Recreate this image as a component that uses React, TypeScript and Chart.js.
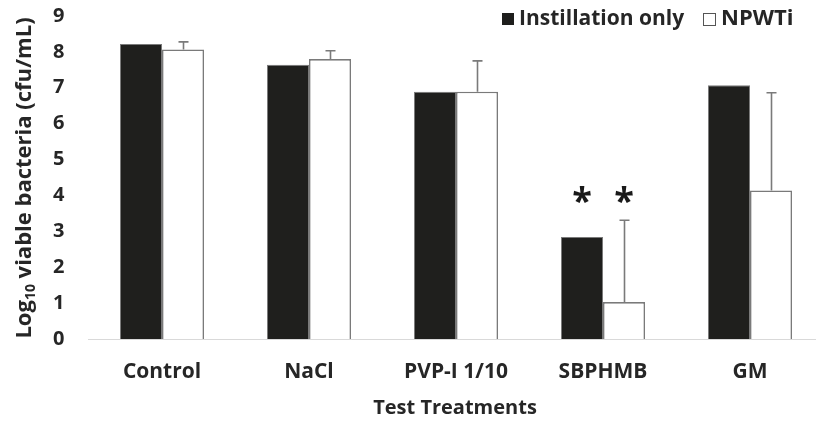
import { useEffect, useRef } from "react";
import { Chart, registerables } from "chart.js";

Chart.register(...registerables);

// Treatments on the x axis
const categories = ["Control", "NaCl", "PVP-I 1/10", "SBPHMB", "GM"];
// Mean log10 viable bacteria (cfu/mL)
const instillationOnly = [8.22, 7.64, 6.89, 2.84, 7.07];
const npwti = [8.07, 7.8, 6.89, 1.03, 4.14];
// Upper standard deviation for the NPWTi group
const npwtiSd = [0.21, 0.23, 0.86, 2.28, 2.72];
// Significance marks (dataset index, category index) and the level they sit at
const significance = [
  { dataset: 0, index: 3 },
  { dataset: 1, index: 3 },
];
const significanceLevel = 4.0;
const yTicks = [0, 1, 2, 3, 4, 5, 6, 7, 8, 9];
const seriesNames = ["Instillation only", "NPWTi"];

const FONT = "'Open Sans', 'Liberation Sans', sans-serif";
const TEXT = "#262626";

const errorBars = {
  id: "errorBars",
  afterDatasetsDraw(chart: any) {
    const { ctx } = chart;
    const y = chart.scales.y;
    const meta = chart.getDatasetMeta(1);
    ctx.save();
    ctx.strokeStyle = "#7a7a7a";
    ctx.lineWidth = 1.6;
    meta.data.forEach((bar: any, i: number) => {
      const top = y.getPixelForValue(npwti[i] + npwtiSd[i]);
      const x = Math.round(bar.x) + 0.5;
      ctx.beginPath();
      ctx.moveTo(x, bar.y);
      ctx.lineTo(x, top);
      ctx.moveTo(x - 5, top);
      ctx.lineTo(x + 5, top);
      ctx.stroke();
    });
    // asterisks
    ctx.fillStyle = "#1a1a1a";
    ctx.font = `bold 36px ${FONT}`;
    ctx.textAlign = "center";
    ctx.textBaseline = "alphabetic";
    significance.forEach((s) => {
      const bar = chart.getDatasetMeta(s.dataset).data[s.index];
      const cy = y.getPixelForValue(significanceLevel);
      const m = ctx.measureText("*");
      const base = cy + (m.actualBoundingBoxAscent - m.actualBoundingBoxDescent) / 2;
      ctx.fillText("*", bar.x, base);
    });
    ctx.restore();
  },
};

const labelsPlugin = {
  id: "labels",
  afterDraw(chart: any) {
    const { ctx } = chart;
    ctx.save();
    ctx.fillStyle = TEXT;

    // y axis title with subscript
    const size = 22;
    const sub = 14;
    const parts = [
      { t: "Log", s: size, dy: 0 },
      { t: "10", s: sub, dy: 4 },
      { t: " viable bacteria (cfu/mL)", s: size, dy: 0 },
    ];
    let total = 0;
    parts.forEach((p) => {
      ctx.font = `bold ${p.s}px ${FONT}`;
      total += ctx.measureText(p.t).width;
    });
    ctx.translate(23, 178);
    ctx.rotate(-Math.PI / 2);
    ctx.textBaseline = "alphabetic";
    ctx.textAlign = "left";
    let x = -total / 2;
    parts.forEach((p) => {
      ctx.font = `bold ${p.s}px ${FONT}`;
      ctx.fillText(p.t, x, 8 + p.dy);
      x += ctx.measureText(p.t).width;
    });
    ctx.setTransform(1, 0, 0, 1, 0, 0);

    // x axis title
    ctx.font = `bold 20px ${FONT}`;
    ctx.textAlign = "center";
    ctx.textBaseline = "middle";
    ctx.fillText("Test Treatments", 455, 408);

    // legend
    ctx.textAlign = "left";
    ctx.font = `bold 21px ${FONT}`;
    ctx.fillStyle = "#1e1e1c";
    ctx.fillRect(502, 13, 12, 12);
    ctx.fillStyle = TEXT;
    ctx.fillText(seriesNames[0], 519, 19);
    ctx.fillStyle = "#ffffff";
    ctx.fillRect(703.5, 13.5, 12, 12);
    ctx.strokeStyle = "#555";
    ctx.lineWidth = 1;
    ctx.strokeRect(703.5, 13.5, 12, 12);
    ctx.fillStyle = TEXT;
    ctx.font = `bold 22px ${FONT}`;
    ctx.fillText(seriesNames[1], 721, 19);
    ctx.restore();
  },
};

export default function App() {
  const ref = useRef<HTMLCanvasElement | null>(null);

  useEffect(() => {
    if (!ref.current) return;
    const chart = new Chart(ref.current, {
      type: "bar",
      data: {
        labels: categories,
        datasets: [
          {
            label: seriesNames[0],
            data: instillationOnly,
            backgroundColor: "#1f1f1d",
            borderColor: "#7a7a7a",
            borderWidth: 1,
            categoryPercentage: 0.572,
            barPercentage: 1,
          },
          {
            label: seriesNames[1],
            data: npwti,
            backgroundColor: "#ffffff",
            borderColor: "#7a7a7a",
            borderWidth: 1.6,
            categoryPercentage: 0.572,
            barPercentage: 1,
          },
        ],
      },
      options: {
        responsive: false,
        animation: false,
        devicePixelRatio: 1,
        layout: { padding: { left: 0, top: 16, right: 6.5, bottom: 0 } },
        plugins: {
          legend: { display: false },
          tooltip: { enabled: false },
        },
        scales: {
          x: {
            grid: { display: false, drawTicks: false },
            border: { display: true, color: "#d9d9d9", width: 1 },
            ticks: {
              padding: 20,
              color: TEXT,
              font: { family: FONT, size: 21, weight: "bold" },
            },
            afterFit(scale: any) {
              scale.height = 82;
              scale.paddingLeft = 0;
              scale.paddingRight = 0;
            },
          },
          y: {
            min: 0,
            max: 9,
            afterBuildTicks(scale: any) {
              scale.ticks = yTicks.map((v) => ({ value: v }));
            },
            grid: { display: false, drawTicks: false },
            border: { display: false },
            ticks: {
              padding: 24,
              color: TEXT,
              font: { family: FONT, size: 20, weight: "bold" },
            },
            afterFit(scale: any) {
              scale.width = 88.5;
              scale.paddingTop = 0;
              scale.paddingBottom = 0;
            },
          },
        },
      },
      plugins: [errorBars, labelsPlugin],
    });
    return () => chart.destroy();
  }, []);

  return (
    <div style={{ position: "fixed", left: 0, top: 0, width: 830, height: 421, background: "#fff" }}>
      <canvas ref={ref} width={830} height={421} style={{ display: "block" }} />
    </div>
  );
}
